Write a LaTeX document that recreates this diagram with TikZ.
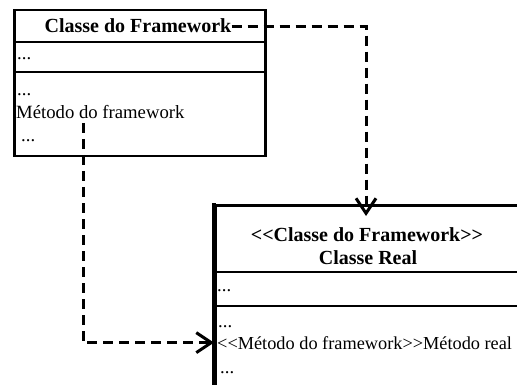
\documentclass[tikz,border=0pt]{standalone}
\usepackage{fontspec}
\setmainfont{Liberation Serif}
\usetikzlibrary{arrows.meta}

% doubled angle brackets, kept apart so they are not set as guillemets
\newcommand{\dlt}{<\kern0pt<}
\newcommand{\dgt}{>\kern0pt>}

\tikzset{
  boxline/.style={line width=2.5pt},
  titletext/.style={inner sep=0pt, anchor=base, font=\fontsize{20}{23}\selectfont\bfseries},
  membertext/.style={inner sep=0pt, anchor=base west, font=\fontsize{18.7}{22}\selectfont},
  dep/.style={line width=3pt, dash pattern=on 10pt off 6pt,
    -{Straight Barb[length=15pt, width=20pt, line width=3pt]}},
}

\begin{document}
\begin{tikzpicture}[x=1pt, y=-1pt]
  \clip (0,0) rectangle (517,385);
  \fill[white] (0,0) rectangle (517,385);

  % framework class
  \node[boxline, draw, anchor=north west, minimum width=251pt, minimum height=146pt, inner sep=0pt] (fwbox) at (13,9) {};
  \draw[boxline] (13,42) -- (264,42);
  \draw[boxline] (13,72) -- (264,72);
  \node[titletext] (fwtitle) at (138,33) {Classe do Framework};
  \node[membertext] (fwattr) at (17,60) {...};
  \node[membertext] (fwdots1) at (17,96) {...};
  \node[membertext] (fwmethod) at (16,119) {Método do framework};
  \node[membertext] (fwdots2) at (21,142) {...};

  % concrete class
  \node[boxline, draw, anchor=north west, minimum width=307pt, minimum height=200pt, inner sep=0pt] (realbox) at (214,204) {};
  \draw[line width=4pt] (214,203) -- (214,400);
  \draw[boxline] (214,272) -- (521,272);
  \draw[boxline] (214,306) -- (521,306);
  \node[titletext] (realstereo) at (367,241) {\dlt Classe do Framework\dgt};
  \node[titletext] (realtitle) at (368,264) {Classe Real};
  \node[membertext] (realattr) at (217,291) {...};
  \node[membertext] (realdots1) at (218,327) {...};
  \node[membertext, font=\fontsize{18.3}{22}\selectfont] (realmethod) at (217,349) {\dlt Método do framework\dgt Método real};
  \node[membertext] (realdots2) at (220,373) {...};

  % dependency connectors
  \coordinate (realtop) at (366,216);
  \coordinate (mstart) at (83,123);
  \draw[dep] (fwtitle.east) -| (realtop);
  \draw[dep] (mstart) |- ([xshift=-3pt]realmethod.west);
\end{tikzpicture}
\end{document}
